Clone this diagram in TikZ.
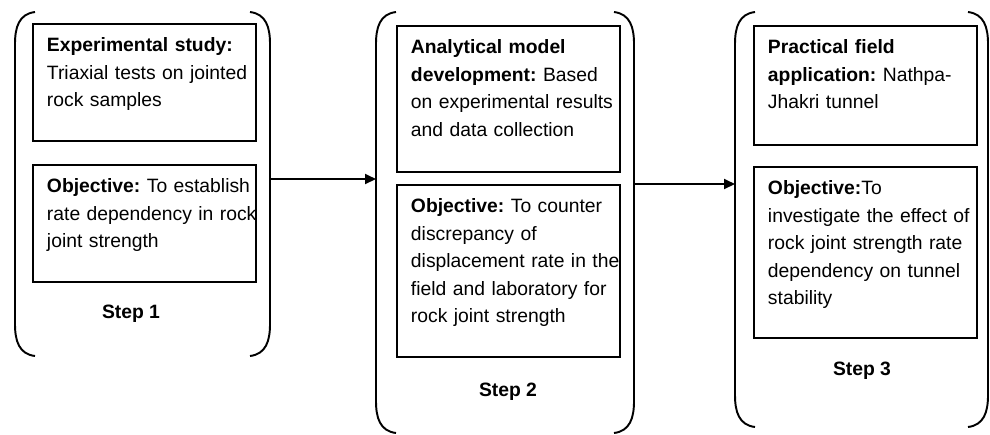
\documentclass[tikz,border=0pt]{standalone}
\usepackage{fontspec}
\setmainfont{Liberation Sans}
\usetikzlibrary{calc,arrows.meta}
\frenchspacing

\begin{document}
\begin{tikzpicture}[x=0.02cm, y=-0.02cm, line width=1.1pt,
            box/.style={draw, rectangle, anchor=north west, inner sep=0pt,
            minimum width=4.46cm},
            txt/.style={anchor=north west, inner sep=0pt, text width=4.3cm,
            align=left, font=\fontsize{11}{15.6}\selectfont},
            steplabel/.style={font=\fontsize{11}{13}\selectfont\bfseries},
            >={Triangle[length=0.22cm,width=0.2cm]}]
        \useasboundingbox (0,0) rectangle (990,434);

          % brackets round each step
          \foreach \xl/\xr/\yt/\yb in {15/270/12/356, 376/634/12/433, 735/988/12/427} {
            \draw (\xl+20,\yt) .. controls (\xl+4,\yt+2) and (\xl,\yt+15) .. (\xl,\yt+32)
              -- (\xl,\yb-32) .. controls (\xl,\yb-15) and (\xl+4,\yb-2) .. (\xl+20,\yb);
            \draw (\xr-20,\yt) .. controls (\xr-4,\yt+2) and (\xr,\yt+15) .. (\xr,\yt+32)
              -- (\xr,\yb-32) .. controls (\xr,\yb-15) and (\xr-4,\yb-2) .. (\xr-20,\yb);
          }

          % step 1
          \node[box,minimum height=2.34cm] (exp) at (32,23) {};
          \node[txt] (exptext) at ([xshift=0.28cm,yshift=-0.28cm]exp.north west)
            {\textbf{Experimental study:}\\ Triaxial tests on jointed\\ rock samples};
          \node[box,minimum height=2.34cm] (obj1) at (32,164) {};
          \node[txt] (obj1text) at ([xshift=0.28cm,yshift=-0.28cm]obj1.north west)
            {\textbf{Objective:} To establish\\ rate dependency in rock\\ joint strength};
          \node[steplabel] (step1) at (131,314) {Step 1};

          % step 2
          \node[box,minimum height=2.92cm] (model) at (396,25) {};
          \node[txt] (modeltext) at ([xshift=0.28cm,yshift=-0.28cm]model.north west)
            {\textbf{Analytical model}\\ \textbf{development:} Based\\ on experimental results\\ and data collection};
          \node[box,minimum height=3.44cm] (obj2) at (396,184) {};
          \node[txt] (obj2text) at ([xshift=0.28cm,yshift=-0.28cm]obj2.north west)
            {\textbf{Objective:} To counter\\ discrepancy of\\ displacement rate in the\\ field and laboratory for\\ rock joint strength};
          \node[steplabel] (step2) at (508,392) {Step 2};

          % step 3
          \node[box,minimum height=2.38cm] (field) at (753,25) {};
          \node[txt] (fieldtext) at ([xshift=0.28cm,yshift=-0.28cm]field.north west)
            {\textbf{Practical field}\\ \textbf{application:} Nathpa-\\ Jhakri tunnel};
          \node[box,minimum height=3.42cm] (obj3) at (753,166) {};
          \node[txt] (obj3text) at ([xshift=0.28cm,yshift=-0.28cm]obj3.north west)
            {\textbf{Objective:}To\\ investigate the effect of\\ rock joint strength rate\\ dependency on tunnel\\ stability};
          \node[steplabel] (step3) at (862,371) {Step 3};

          % links between the steps
          \coordinate (s1r) at (270,179);
          \coordinate (s2l) at (376,179);
          \coordinate (s2r) at (634,184);
          \coordinate (s3l) at (735,184);
          \draw[->] (s1r) -- (s2l);
          \draw[->] (s2r) -- (s3l);
        \end{tikzpicture}
\end{document}
